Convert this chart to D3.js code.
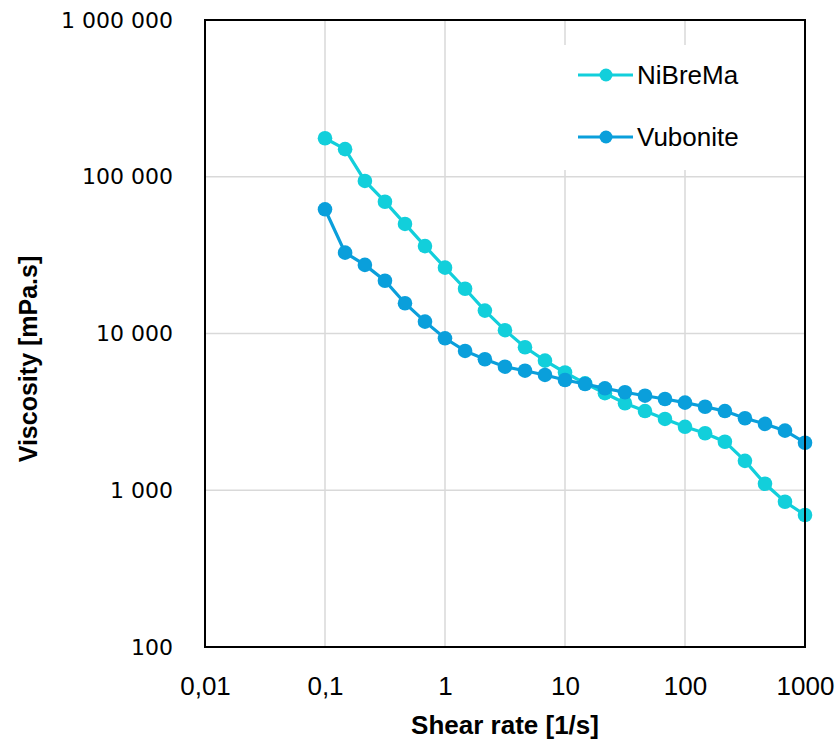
<!DOCTYPE html>
<html>
<head>
<meta charset="utf-8">
<script src="https://cdn.jsdelivr.net/npm/d3@7"></script>
<style>
  body { margin: 0; background: #fff; }
</style>
</head>
<body>
<div id="container"></div>
<script>
// shear rate [1/s], 6 points per decade
let shearRate = [0.1, 0.147, 0.215, 0.316, 0.464, 0.681, 1, 1.47, 2.15, 3.16, 4.64, 6.81,
  10, 14.7, 21.5, 31.6, 46.4, 68.1, 100, 147, 215, 316, 464, 681, 1000];

// viscosity [mPa.s]
let nibrema = [176000, 150000, 94000, 69300, 50000, 36100, 26300, 19300, 14000, 10500, 8170, 6710,
  5640, 4810, 4160, 3590, 3200, 2850, 2540, 2310, 2040, 1540, 1100, 845, 695];
let vubonite = [62000, 32800, 27400, 21700, 15600, 11900, 9320, 7740, 6850, 6140, 5790, 5440,
  5050, 4760, 4470, 4220, 4010, 3820, 3620, 3410, 3200, 2880, 2650, 2400, 2010];

let xTicks = [0.01, 0.1, 1, 10, 100, 1000];
let xTickLabels = ["0,01", "0,1", "1", "10", "100", "1000"];
let yTicks = [100, 1000, 10000, 100000, 1000000];
let yTickLabels = ["100", "1 000", "10 000", "100 000", "1 000 000"];

let seriesNames = ["NiBreMa", "Vubonite"];
let seriesColors = ["#12cfdb", "#0a9fdb"];

let w = 839;
let h = 743;
let plotLeft = 205, plotRight = 805, plotTop = 20, plotBottom = 647;

let viz = d3.select("#container")
  .append("svg")
  .attr("width", w)
  .attr("height", h)
  .style("font-family", "'Liberation Sans', Arial, sans-serif");

let x = d3.scaleLog().domain([0.01, 1000]).range([plotLeft, plotRight]);
let y = d3.scaleLog().domain([100, 1000000]).range([plotBottom, plotTop]);

// gridlines
viz.append("g").selectAll("line").data(xTicks.slice(1, -1)).enter()
  .append("line")
  .attr("x1", d => x(d)).attr("x2", d => x(d))
  .attr("y1", plotTop).attr("y2", plotBottom)
  .attr("stroke", "#d9d9d9").attr("stroke-width", 1.5);

viz.append("g").selectAll("line").data(yTicks.slice(1, -1)).enter()
  .append("line")
  .attr("x1", plotLeft).attr("x2", plotRight)
  .attr("y1", d => y(d)).attr("y2", d => y(d))
  .attr("stroke", "#d9d9d9").attr("stroke-width", 1.5);

// legend background hides the grid behind it
viz.append("rect")
  .attr("x", 540).attr("y", 45)
  .attr("width", 262).attr("height", 125)
  .attr("fill", "#fff");

// tick labels
let xAxis = d3.axisBottom(x)
  .tickValues(xTicks)
  .tickFormat((d, i) => xTickLabels[i])
  .tickSize(0)
  .tickPadding(30);
let gx = viz.append("g").attr("transform", `translate(0,${plotBottom})`).call(xAxis);
gx.select(".domain").remove();
gx.selectAll("text")
  .attr("font-family", "'Liberation Sans', Arial, sans-serif")
  .attr("font-size", 26)
  .attr("fill", "#000");

let yAxis = d3.axisLeft(y)
  .tickValues(yTicks)
  .tickFormat((d, i) => yTickLabels[i])
  .tickSize(0)
  .tickPadding(32);
let gy = viz.append("g").attr("transform", `translate(${plotLeft},0)`).call(yAxis);
gy.select(".domain").remove();
gy.selectAll("text")
  .attr("font-family", "'DejaVu Sans', Verdana, sans-serif")
  .attr("font-size", 22)
  .attr("fill", "#000");

// series
let line = d3.line()
  .x((d, i) => x(shearRate[i]))
  .y(d => y(d));

[nibrema, vubonite].forEach(function(values, s) {
  let g = viz.append("g");
  g.append("path")
    .attr("d", line(values))
    .attr("fill", "none")
    .attr("stroke", seriesColors[s])
    .attr("stroke-width", 3.2);
  g.selectAll("circle").data(values).enter()
    .append("circle")
    .attr("cx", (d, i) => x(shearRate[i]))
    .attr("cy", d => y(d))
    .attr("r", 7.3)
    .attr("fill", seriesColors[s]);
});

// frame
viz.append("rect")
  .attr("x", plotLeft).attr("y", plotTop)
  .attr("width", plotRight - plotLeft).attr("height", plotBottom - plotTop)
  .attr("fill", "none")
  .attr("stroke", "#000")
  .attr("stroke-width", 2);

// legend
seriesNames.forEach(function(name, i) {
  let ly = 75 + i * 62;
  viz.append("line")
    .attr("x1", 578).attr("x2", 633)
    .attr("y1", ly).attr("y2", ly)
    .attr("stroke", seriesColors[i])
    .attr("stroke-width", 3.2);
  viz.append("circle")
    .attr("cx", 606).attr("cy", ly)
    .attr("r", 6.5)
    .attr("fill", seriesColors[i]);
  viz.append("text")
    .attr("x", 637).attr("y", ly)
    .attr("dy", "0.35em")
    .attr("font-size", 26)
    .attr("fill", "#000")
    .text(name);
});

// axis titles
viz.append("text")
  .attr("x", (plotLeft + plotRight) / 2)
  .attr("y", 734)
  .attr("text-anchor", "middle")
  .attr("font-size", 26)
  .attr("font-weight", "bold")
  .text("Shear rate [1/s]");

viz.append("text")
  .attr("transform", "translate(37,359) rotate(-90)")
  .attr("text-anchor", "middle")
  .attr("font-size", 25)
  .attr("font-weight", "bold")
  .text("Viscosity [mPa.s]");
</script>
</body>
</html>
